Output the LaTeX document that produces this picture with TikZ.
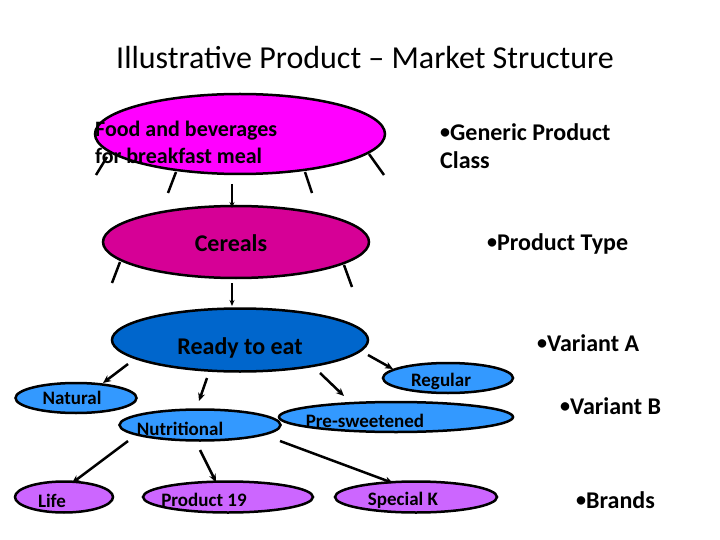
\documentclass[tikz,border=0pt]{standalone}
\usepackage{fontspec}
\setmainfont{Carlito}
\usetikzlibrary{shapes.geometric,arrows.meta}
\definecolor{cfood}{RGB}{255,0,255}
\definecolor{ccer}{RGB}{214,0,150}
\definecolor{cready}{RGB}{0,102,204}
\definecolor{clight}{RGB}{51,153,255}
\definecolor{cpurple}{RGB}{204,102,255}
\newcommand{\mybul}{\raisebox{1.8pt}{\fontsize{20}{20}\selectfont\textbullet}}
\begin{document}
\begin{tikzpicture}[x=1pt,y=-1pt,
  ell/.style={ellipse,draw=black,line width=2.5pt,inner sep=0pt},
  bigtxt/.style={font=\bfseries\fontsize{24}{28}\selectfont,inner sep=0pt},
  foodtxt/.style={font=\bfseries\fontsize{22}{25}\selectfont,inner sep=0pt,anchor=west},
  smalltxt/.style={font=\bfseries\fontsize{19}{22}\selectfont,inner sep=0pt},
  side/.style={font=\bfseries\fontsize{24}{28}\selectfont,inner sep=0pt,anchor=west,align=left},
  leg/.style={line width=2.5pt},
  thinarr/.style={line width=1.5pt,-{Stealth[length=6pt,width=5pt]}},
  arr/.style={line width=2.5pt,-{Stealth[length=8pt,width=7pt]}}]
\useasboundingbox (0,0) rectangle (720,540);
% title
\node[font=\fontsize{32}{38}\selectfont,inner sep=0pt] (title) at (365,58) {Illustrative Product -- Market Structure};
% legs behind ellipses
\draw[leg] (107,157) -- (96,175);
\draw[leg] (176,172) -- (168,193);
\draw[leg] (305,172) -- (312,193);
\draw[leg] (369,154) -- (384,175);
\draw[leg] (120,262) -- (112,283);
\draw[leg] (344,265) -- (352,287);
% ellipses
\node[ell,fill=cfood,minimum width=290pt,minimum height=80pt] (food) at (240,134) {};
\node[ell,fill=ccer,minimum width=266pt,minimum height=72pt] (cer) at (236,242) {};
\node[ell,fill=cready,minimum width=256pt,minimum height=63pt] (ready) at (240,340) {};
\node[ell,fill=clight,minimum width=121pt,minimum height=30pt] (nat) at (76,398) {};
\node[ell,fill=clight,minimum width=161pt,minimum height=31pt] (nut) at (200,425) {};
\node[ell,fill=clight,minimum width=130pt,minimum height=30pt] (reg) at (448,378) {};
\node[ell,fill=clight,minimum width=234pt,minimum height=30pt] (pre) at (396,417) {};
\node[ell,fill=cpurple,minimum width=98pt,minimum height=31pt] (life) at (64,497) {};
\node[ell,fill=cpurple,minimum width=170pt,minimum height=31pt] (p19) at (228,497) {};
\node[ell,fill=cpurple,minimum width=162pt,minimum height=31pt] (spk) at (416,497) {};
% texts
\node[foodtxt] (foodt1) at (95,131) {Food and beverages};
\node[foodtxt] (foodt2) at (95,156) {for breakfast meal};
\node[bigtxt] (cert) at (231,243) {Cereals};
\node[bigtxt] (readyt) at (240,348) {Ready to eat};
\node[smalltxt] (natt) at (72,398) {Natural};
\node[smalltxt] (nutt) at (180,429) {Nutritional};
\node[smalltxt] (regt) at (441,381) {Regular};
\node[smalltxt] (pret) at (365,421) {Pre-sweetened};
\node[smalltxt] (lifet) at (52,501) {Life};
\node[smalltxt] (p19t) at (204,500) {Product 19};
\node[smalltxt] (spkt) at (403,500) {Special K};
% side labels
\node[side] (s1) at (440,146) {\mybul Generic Product\\Class};
\node[side] (s2) at (487,244) {\mybul Product Type};
\node[side] (s3) at (537,343) {\mybul Variant A};
\node[side] (s4) at (560,406) {\mybul Variant B};
\node[side] (s5) at (576,500) {\mybul Brands};
% connector end points
\coordinate (a1s) at (232,184); \coordinate (a1e) at (232,208);
\coordinate (a2s) at (232,283); \coordinate (a2e) at (232,306);
\coordinate (b1s) at (128,364); \coordinate (b1e) at (103,383);
\coordinate (b2s) at (207,378); \coordinate (b2e) at (199,401);
\coordinate (b3s) at (320,373); \coordinate (b3e) at (344,396);
\coordinate (b4s) at (368,355); \coordinate (b4e) at (393,369);
\coordinate (c1s) at (128,441); \coordinate (c1e) at (72,483);
\coordinate (c2s) at (200,450); \coordinate (c2e) at (216,482);
\coordinate (c3s) at (280,441); \coordinate (c3e) at (393,483);
% connectors
\draw[thinarr] (a1s) -- (a1e);
\draw[thinarr] (a2s) -- (a2e);
\draw[arr] (b1s) -- (b1e);
\draw[arr] (b2s) -- (b2e);
\draw[arr] (b3s) -- (b3e);
\draw[arr] (b4s) -- (b4e);
\draw[arr] (c1s) -- (c1e);
\draw[arr] (c2s) -- (c2e);
\draw[arr] (c3s) -- (c3e);
\end{tikzpicture}
\end{document}
